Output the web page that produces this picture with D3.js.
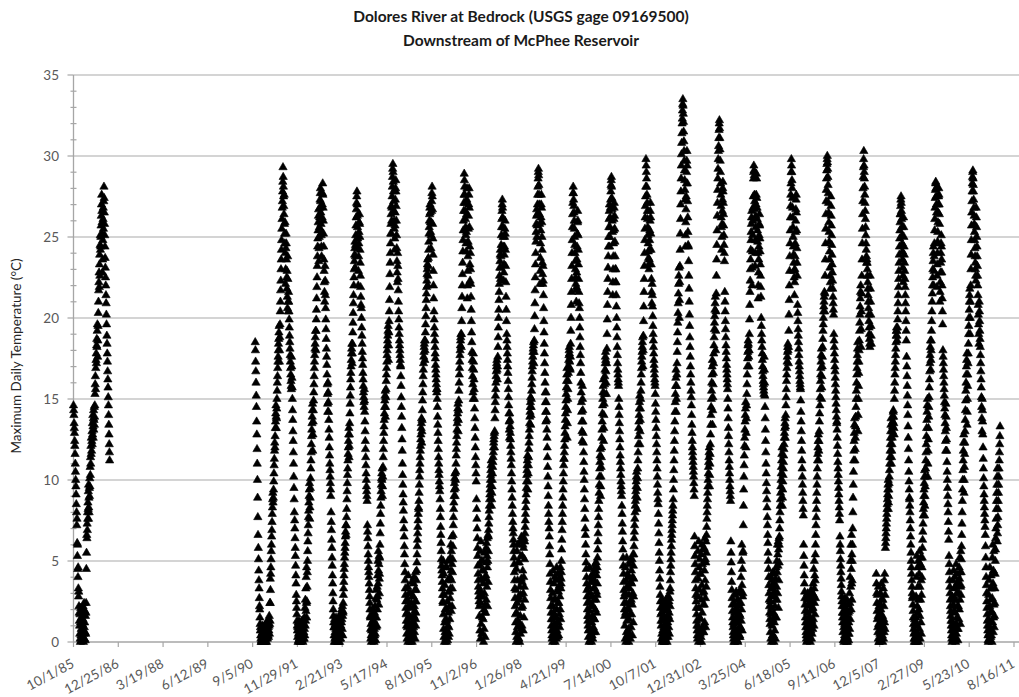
<!DOCTYPE html>
<html>
<head>
<meta charset="utf-8">
<script src="https://cdn.jsdelivr.net/npm/d3@7"></script>
<style>
  html, body { margin: 0; padding: 0; background: #fff; }
  svg { display: block; }
  text { font-family: Lato, "Open Sans", sans-serif; }
</style>
</head>
<body>
<svg id="chart" width="1019" height="697"></svg>
<script>
// ---------------- DATA ----------------
const titleLines = ["Dolores River at Bedrock (USGS gage 09169500)", "Downstream of McPhee Reservoir"];
const yAxisTitle = "Maximum Daily Temperature (°C)";
const yTicks = [0, 5, 10, 15, 20, 25, 30, 35];
const tickLabels = ["10/1/85", "12/25/86", "3/19/88", "6/12/89", "9/5/90", "11/29/91", "2/21/93", "5/17/94",
  "8/10/95", "11/2/96", "1/26/98", "4/21/99", "7/14/00", "10/7/01", "12/31/02", "3/25/04", "6/18/05",
  "9/11/06", "12/5/07", "2/27/09", "5/23/10", "8/16/11"];

// Water years (Oct of previous year .. Sep). 15 readings per month (every 2nd day), Oct first.
const waterYears = [1986, 1991, 1992, 1993, 1994, 1995, 1996, 1997, 1998, 1999, 2000,
  2001, 2002, 2003, 2004, 2005, 2006, 2007, 2008, 2009, 2010, 2011];

const wy1986 = [
14.6,14.3,14.0,13.5,13.2,12.9,12.4,12.1,11.6,11.0,10.5,10.0,9.6,9.1,8.5,
8.0,7.2,7.6,6.1,5.3,6.0,4.5,4.0,4.6,3.3,2.8,3.1,2.2,1.8,1.3,
1.0,0.5,1.7,0.2,0.0,1.2,2.1,0.4,0.8,0.1,1.5,0.6,1.9,0.3,1.1,
0.3,1.4,2.2,0.7,0.0,0.5,1.8,2.4,0.9,0.2,1.2,1.9,0.6,0.1,1.6,
0.5,1.8,2.4,4.5,5.5,6.6,6.4,7.3,6.9,8.0,7.6,8.6,8.2,9.3,9.7,
7.6,8.3,8.9,8.0,9.5,9.0,10.1,9.6,10.8,10.3,11.4,11.0,12.1,11.6,12.6,
11.8,12.4,13.0,12.2,13.5,12.8,14.0,13.3,12.6,13.8,14.3,13.1,13.7,14.5,13.4,
13.9,14.6,15.3,15.9,16.4,15.6,16.9,17.4,17.8,17.2,18.3,18.7,18.2,19.2,19.6,
17.6,18.6,19.5,20.3,21.0,21.7,22.2,22.8,21.9,23.3,23.9,22.6,24.5,25.1,24.2,
24.4,25.0,25.7,26.3,27.0,27.6,26.6,25.9,25.2,22.8,23.6,24.8,26.1,26.8,25.5,
27.2,28.1,27.4,26.5,25.8,25.1,24.4,23.7,23.1,22.5,22.0,21.4,20.9,20.2,19.6,
18.9,18.4,17.8,17.3,16.7,16.2,15.7,15.1,14.6,14.0,13.4,12.8,12.2,11.7,11.2];

const wy1991 = [
18.5,18.0,17.3,16.7,16.0,15.2,14.5,13.6,12.8,11.9,11.0,10.0,8.9,7.7,6.6,
5.8,5.1,4.4,3.8,3.3,2.7,2.2,2.0,1.5,1.1,0.7,0.9,0.4,0.2,0.0,
0.4,0.1,0.0,0.8,0.3,0.0,0.6,1.0,0.2,0.5,0.9,0.1,0.3,0.7,0.0,
0.0,0.3,0.7,0.1,0.4,1.1,0.0,0.2,0.5,0.8,0.3,0.0,0.6,1.2,0.4,
0.2,0.6,1.2,0.4,0.9,0.3,1.4,0.7,1.0,1.6,0.5,1.1,2.4,1.3,3.9,
2.4,3.2,4.2,4.6,5.1,5.6,6.0,6.5,6.9,7.4,7.9,8.3,8.8,9.2,8.6,
8.9,9.4,9.9,10.4,10.9,11.3,11.8,12.3,12.0,12.7,13.2,13.6,14.1,14.6,13.9,
13.2,13.8,14.4,15.0,15.5,16.0,16.4,16.9,17.3,17.6,18.0,18.4,18.7,19.1,19.5,
17.3,18.0,18.8,19.6,20.4,21.0,21.7,22.3,23.0,23.6,24.2,24.8,25.5,26.1,26.8,
27.2,27.8,28.4,29.3,28.7,28.1,27.5,26.9,26.4,27.6,25.8,25.2,24.6,25.9,24.0,
22.1,23.0,24.3,25.2,24.6,23.6,22.5,21.8,22.9,21.3,20.6,23.8,22.4,21.0,20.4,
21.6,21.0,20.4,19.9,19.4,18.9,18.5,18.1,17.7,17.3,16.9,16.5,16.1,15.8,15.6];

const wy1992 = [
17.6,17.0,16.3,15.7,15.0,14.3,13.7,13.0,12.4,11.7,11.0,10.2,9.5,8.8,8.0,
7.5,7.0,6.4,5.8,5.3,4.7,4.1,3.6,2.9,2.5,2.1,1.7,1.3,1.0,0.7,
0.3,0.9,0.0,1.2,0.5,0.1,0.8,1.3,0.2,0.6,1.0,0.0,0.4,1.1,0.3,
0.0,0.4,1.0,0.2,0.7,1.3,0.1,0.5,0.9,0.3,1.2,0.0,0.6,1.4,0.2,
0.6,1.1,0.2,0.8,1.5,0.4,2.1,1.0,2.6,1.3,3.3,1.9,4.0,2.4,4.6,
1.5,2.5,3.4,4.3,5.0,5.6,6.2,6.7,7.2,7.7,8.1,8.6,9.0,9.4,9.8,
7.6,8.3,8.9,9.5,10.1,10.7,11.2,11.7,12.2,12.7,13.1,13.5,13.9,14.3,14.7,
11.8,12.8,13.6,14.3,14.9,15.4,15.9,16.4,16.9,17.3,17.7,18.1,18.4,18.8,19.2,
18.0,19.2,19.9,20.5,21.2,21.9,22.5,23.2,23.8,24.4,24.9,25.4,25.9,26.3,26.7,
23.5,24.3,25.0,25.6,26.2,26.8,27.3,27.7,28.0,27.2,26.5,25.8,25.1,24.4,23.8,
25.3,26.2,27.0,27.7,28.3,27.6,26.8,26.0,25.2,24.4,23.6,22.9,22.2,21.6,21.0,
23.2,22.3,21.4,20.6,19.9,19.3,18.7,18.1,17.6,17.1,16.5,15.9,15.3,14.7,14.2];

const wy1993 = [
16.0,15.4,14.8,14.2,13.7,13.1,12.6,12.0,11.5,11.0,10.6,10.2,9.8,9.4,9.0,
8.0,7.4,6.9,6.3,5.8,5.2,4.7,4.1,3.6,3.0,2.5,2.0,1.6,1.2,0.9,
0.4,0.0,0.9,1.4,0.2,0.6,1.1,0.0,0.3,0.8,1.5,0.1,0.5,1.0,0.2,
0.1,0.5,1.2,0.0,0.7,1.5,0.3,0.0,0.9,0.4,1.3,0.6,0.0,1.0,0.2,
0.6,1.3,0.2,1.0,1.7,0.5,1.2,2.0,1.4,1.9,0.8,2.2,1.6,0.4,1.8,
1.9,2.4,2.9,3.3,3.7,4.1,4.5,4.8,5.2,5.5,5.8,6.1,6.5,6.8,7.2,
6.6,7.2,7.7,8.2,8.8,9.3,9.8,10.3,10.7,11.2,11.6,12.0,12.4,12.8,13.2,
11.4,12.1,12.8,13.5,14.1,14.7,15.2,15.7,16.2,16.6,17.0,17.4,17.8,18.1,18.4,
17.2,17.8,18.4,19.1,19.7,20.3,20.9,21.4,22.0,22.5,23.0,23.5,23.9,24.3,24.7,
23.1,23.8,24.5,25.1,25.7,26.2,26.7,27.1,27.5,27.8,27.0,26.3,25.6,24.9,24.3,
22.0,22.9,23.8,24.6,25.3,25.9,26.4,25.8,25.0,24.2,23.4,22.6,21.9,21.3,20.8,
20.6,20.0,19.4,18.9,18.4,17.9,17.5,17.1,16.6,16.2,15.8,15.4,15.1,14.8,14.5];

const wy1994 = [
15.6,14.9,14.2,13.6,13.0,12.4,11.9,11.4,10.9,10.4,10.0,9.6,9.3,9.0,8.7,
7.2,6.8,6.4,5.9,5.4,5.0,4.6,4.3,4.0,3.6,3.2,2.8,2.4,2.0,1.6,
1.5,0.8,0.2,1.1,0.4,0.0,0.7,1.6,0.3,0.9,2.0,0.5,1.3,0.1,0.6,
0.2,0.6,1.3,0.0,0.8,1.8,0.4,1.0,2.2,0.5,1.5,0.1,2.7,0.9,3.2,
1.5,2.6,1.0,3.4,2.0,4.1,2.8,5.0,3.6,5.6,4.4,2.3,4.8,5.3,3.9,
3.0,4.2,5.2,6.0,6.7,7.3,7.9,8.4,8.9,9.3,9.7,10.1,10.4,10.0,10.7,
9.0,9.6,10.2,10.8,11.4,11.9,12.4,12.9,13.3,13.7,14.1,14.5,14.9,15.2,15.5,
13.9,14.5,15.1,15.6,16.1,16.5,16.9,17.3,17.7,18.0,18.3,18.6,18.9,19.2,19.5,
17.4,18.3,19.1,19.8,20.4,21.1,21.9,22.7,23.4,24.0,24.6,25.2,25.8,26.4,26.9,
25.2,26.0,26.8,27.5,28.1,28.7,29.2,29.5,29.0,28.4,27.8,27.2,26.6,26.0,25.5,
24.2,24.9,25.7,26.5,27.3,28.0,28.5,27.8,26.9,26.0,25.1,24.3,23.5,22.8,22.2,
24.0,23.2,22.4,21.7,21.0,20.4,19.9,19.4,19.0,18.6,18.3,18.0,17.7,17.4,17.1];

const wy1995 = [
17.0,16.4,15.8,15.1,14.5,13.9,13.2,12.5,11.8,11.0,10.3,9.7,9.1,8.6,8.1,
7.5,7.0,6.5,5.9,5.4,4.8,4.3,3.8,3.3,2.9,2.5,2.1,1.7,1.3,1.0,
0.5,1.8,0.2,2.6,0.9,3.4,0.0,1.3,4.1,0.6,2.2,0.3,3.0,1.6,0.1,
0.3,1.0,2.1,0.0,0.7,3.0,1.5,0.2,2.4,0.8,3.7,1.2,0.0,2.8,0.5,
0.4,1.2,2.8,0.9,3.6,1.6,4.0,2.2,0.6,1.9,3.2,0.2,2.5,4.3,1.4,
1.0,1.8,2.5,3.2,3.8,4.4,4.9,5.4,5.9,6.3,6.7,7.1,7.5,7.9,8.3,
8.2,8.7,9.2,9.7,10.2,10.6,11.0,11.4,11.8,12.1,12.5,12.8,13.2,13.5,13.8,
12.3,13.0,13.7,14.3,14.9,15.4,15.9,16.4,16.8,17.2,17.6,17.9,18.2,18.4,18.6,
17.4,18.0,18.6,19.1,19.6,20.1,20.6,21.1,21.5,21.9,22.3,22.7,23.0,23.3,23.6,
22.0,22.6,23.2,23.7,24.2,24.7,25.2,25.6,26.0,26.4,26.8,27.0,26.5,25.9,25.3,
24.3,25.1,25.9,26.6,27.2,27.7,28.1,27.5,26.7,25.8,24.9,23.9,22.9,22.0,21.2,
20.4,19.9,19.4,19.0,18.6,18.2,17.8,17.5,17.1,16.8,16.5,16.2,15.9,15.6,15.4];

const wy1996 = [
15.6,15.0,14.5,13.9,13.4,12.9,12.4,11.9,11.4,11.0,10.6,10.3,9.9,9.6,9.3,
8.8,8.2,7.7,7.1,6.6,6.1,5.6,5.1,4.7,4.4,4.1,3.7,3.3,2.9,2.5,
2.4,5.0,1.7,0.8,4.2,0.3,2.9,0.0,1.2,3.5,0.6,2.0,4.6,1.4,0.2,
0.4,2.0,0.0,1.3,4.6,0.7,2.5,0.1,3.8,1.0,5.0,1.8,0.3,3.1,0.9,
0.5,2.2,3.1,1.4,4.0,2.7,5.2,3.3,6.0,4.4,1.9,5.6,3.8,6.5,4.8,
2.2,3.3,4.3,5.1,5.9,6.6,7.2,7.7,8.2,8.6,9.0,9.4,9.8,10.1,10.4,
9.0,9.5,10.0,10.5,11.0,11.5,11.9,12.3,12.7,13.1,13.5,13.8,14.1,14.4,14.7,
13.0,13.7,14.3,14.9,15.5,16.0,16.5,16.9,17.3,17.7,18.0,18.3,18.6,18.8,19.0,
18.2,19.0,19.8,20.6,21.3,22.0,22.7,23.4,24.1,24.8,25.4,26.0,26.6,27.1,27.6,
28.9,28.5,28.1,27.6,27.1,26.6,26.1,25.6,25.1,24.6,24.1,25.3,26.4,27.3,28.0,
21.2,22.0,22.9,23.8,24.7,25.5,26.3,27.0,27.6,28.0,26.8,25.6,24.4,23.3,22.3,
24.0,23.0,22.1,21.3,20.5,19.8,19.1,18.5,17.9,17.4,16.9,16.4,15.9,15.4,15.0];

const wy1997 = [
17.8,17.3,16.8,16.2,15.6,15.0,14.4,13.8,13.2,12.6,12.0,11.4,10.9,10.4,9.9,
8.8,8.2,7.6,7.0,6.4,5.8,5.3,4.7,4.2,3.8,3.4,3.1,2.8,2.5,2.2,
1.6,4.8,0.7,3.2,5.6,0.2,2.4,6.2,1.1,3.9,5.0,0.5,2.8,4.4,1.5,
0.5,2.8,5.0,1.4,3.6,0.0,4.4,2.0,0.8,3.0,5.5,1.8,3.9,0.3,2.3,
1.8,4.1,5.8,2.6,4.9,6.1,3.4,5.3,6.4,4.6,2.2,5.0,6.6,3.7,5.6,
6.5,6.9,7.3,7.7,8.1,8.4,8.8,9.1,9.4,9.7,10.0,10.3,10.6,10.9,11.2,
8.4,8.8,9.2,9.6,10.0,10.4,10.8,11.1,11.4,11.7,12.0,12.3,12.5,12.7,12.9,
12.0,13.0,13.8,14.3,14.8,15.2,15.6,16.0,16.4,16.7,17.0,17.2,17.4,16.8,16.2,
17.0,17.6,18.2,18.8,19.4,20.0,20.5,21.1,21.6,22.1,22.6,23.1,23.5,23.9,24.2,
22.4,23.1,23.8,24.5,25.1,25.6,26.1,26.6,27.0,27.3,26.8,26.2,25.6,25.0,24.4,
22.3,22.8,23.3,23.9,24.4,25.0,25.5,26.0,25.2,24.2,23.2,22.2,21.3,20.5,19.8,
19.0,18.6,18.2,17.8,17.4,17.0,16.6,16.1,15.6,15.1,14.6,14.1,13.6,13.1,12.6];

const wy1998 = [
14.1,13.7,13.3,12.9,12.5,12.1,11.7,11.3,10.9,10.4,9.9,9.4,8.9,8.4,7.9,
7.4,7.0,6.7,6.3,6.0,5.6,5.2,4.8,4.3,3.8,3.3,2.7,2.2,1.7,1.2,
0.6,3.2,0.0,4.5,1.8,0.3,5.6,2.4,0.9,3.8,6.0,1.3,4.9,0.2,2.8,
0.2,2.6,4.9,1.1,0.0,3.4,6.2,1.6,0.5,2.9,5.3,0.8,3.9,6.5,2.1,
1.0,3.7,5.3,2.2,4.4,6.0,0.7,3.0,5.8,4.0,1.5,6.4,3.4,5.1,2.6,
6.2,6.7,7.1,7.5,7.9,8.3,8.7,9.1,9.5,9.9,10.3,10.6,10.9,11.2,11.5,
9.4,9.9,10.4,10.9,11.4,11.9,12.3,12.7,13.1,13.5,13.9,14.2,14.5,14.8,15.1,
13.4,14.0,14.5,15.0,15.5,15.9,16.3,16.7,17.0,17.3,17.6,17.9,18.1,18.3,18.5,
17.2,17.9,18.6,19.3,20.1,20.9,21.7,22.5,23.3,24.0,24.7,25.3,25.8,26.3,26.7,
25.0,25.7,26.4,27.0,27.6,28.1,28.6,29.0,29.2,28.8,28.2,27.6,27.0,26.4,25.8,
22.1,22.9,23.7,24.6,25.4,26.2,27.0,27.6,26.8,25.9,25.0,24.2,23.4,22.7,22.1,
23.2,22.3,21.4,20.6,19.8,19.1,18.4,17.8,17.2,16.6,16.0,15.4,14.8,14.2,13.6];

const wy1999 = [
15.4,14.8,14.2,13.7,13.1,12.6,12.0,11.4,10.8,10.2,9.6,9.0,8.4,7.9,7.4,
7.0,6.5,5.9,5.4,4.8,4.2,3.7,3.2,2.7,2.2,1.8,1.4,1.0,0.7,0.4,
0.2,1.4,3.0,0.0,2.2,4.4,0.8,1.8,0.3,3.6,1.1,2.6,0.5,4.0,1.6,
0.0,1.0,2.6,0.5,3.8,1.5,0.2,4.6,2.0,0.7,3.2,1.2,4.2,0.3,2.4,
1.2,3.1,0.4,2.4,4.2,1.7,3.5,0.9,2.8,4.0,2.0,4.6,1.4,3.3,3.9,
3.6,4.3,5.0,5.7,6.3,6.9,7.4,7.9,8.4,8.9,9.4,9.9,10.4,10.9,11.3,
11.3,11.7,12.1,12.5,12.9,13.3,13.7,14.1,14.5,14.9,15.3,15.7,16.1,16.5,16.9,
12.6,13.5,14.3,15.0,15.6,16.1,16.6,17.0,17.4,17.7,18.0,18.2,17.8,17.3,16.9,
16.8,17.6,18.4,19.2,20.0,20.8,21.6,22.4,23.2,24.0,24.8,25.6,26.4,27.1,27.7,
28.1,27.7,27.3,26.9,26.5,26.0,25.5,25.0,24.5,24.0,23.5,23.0,22.5,22.1,21.7,
21.0,21.9,22.8,23.6,24.4,25.2,25.9,26.6,26.0,25.1,24.2,23.3,22.4,21.6,20.9,
20.6,20.0,19.4,18.8,18.2,17.7,17.2,16.6,16.0,15.4,14.8,14.2,13.6,13.0,12.4];

const wy2000 = [
15.8,15.0,14.3,13.6,12.9,12.3,11.7,11.1,10.5,10.0,9.4,8.8,8.2,7.6,7.0,
6.6,6.0,5.4,4.9,4.5,4.0,3.6,3.2,2.8,2.4,2.0,1.6,1.3,1.0,0.7,
0.3,1.6,3.4,0.0,2.5,4.6,0.8,1.9,0.1,3.0,1.2,4.0,0.5,2.2,3.7,
0.0,1.2,2.8,0.4,3.9,1.6,0.2,4.2,2.2,0.9,3.3,0.6,2.6,4.5,1.4,
1.4,3.3,4.8,2.0,3.7,0.6,4.4,2.6,4.9,3.1,1.8,4.1,2.9,4.6,3.6,
5.2,5.7,6.2,6.7,7.2,7.7,8.2,8.7,9.2,9.7,10.2,10.7,11.1,11.5,11.9,
9.0,9.6,10.2,10.8,11.4,12.0,12.6,13.1,13.6,14.1,14.6,15.0,15.4,15.8,16.2,
12.4,13.2,14.0,14.7,15.3,15.9,16.4,16.8,17.2,17.6,17.9,17.4,16.7,16.0,15.3,
17.2,18.1,19.0,19.9,20.8,21.6,22.4,23.1,23.8,24.4,25.0,25.6,26.1,26.6,27.0,
24.4,25.0,25.6,26.2,26.8,27.3,27.8,28.2,28.5,28.7,28.1,27.4,26.7,26.0,25.3,
21.4,22.2,23.0,23.8,24.6,25.4,26.1,26.8,27.1,26.3,25.5,24.7,23.8,23.0,22.2,
23.0,22.2,21.4,20.7,20.0,19.4,18.8,18.2,17.7,17.2,16.8,16.5,16.2,16.0,15.8];

const wy2001 = [
15.0,14.5,14.0,13.5,13.0,12.5,12.0,11.5,11.1,10.7,10.3,9.9,9.6,9.3,9.0,
8.4,7.9,7.3,6.8,6.2,5.7,5.2,4.7,4.2,3.7,3.2,2.8,2.4,2.0,1.6,
1.0,3.0,0.2,4.6,1.8,0.0,3.8,2.4,0.6,5.2,1.3,3.4,0.4,4.2,2.0,
0.3,2.1,4.0,0.8,0.0,2.9,1.4,4.8,0.5,3.3,1.7,5.0,0.2,2.5,3.7,
0.9,2.6,4.4,1.7,3.6,5.1,2.3,0.4,4.0,3.0,5.4,1.2,4.7,2.8,3.9,
5.4,5.9,6.4,6.8,7.2,7.6,8.0,8.4,8.7,9.0,9.3,9.6,9.9,10.2,10.5,
8.2,8.9,9.5,10.1,10.7,11.2,11.7,12.2,12.7,13.2,13.6,14.0,14.4,14.8,15.2,
12.2,13.0,13.7,14.4,15.0,15.5,16.0,16.5,16.9,17.3,17.6,17.9,18.2,18.5,18.8,
17.0,18.0,18.9,19.8,20.7,21.6,22.4,23.2,24.0,24.8,25.5,26.2,26.9,27.5,28.1,
29.8,29.4,29.0,28.6,28.1,27.6,27.1,26.6,26.1,25.6,25.1,24.6,24.1,23.7,23.3,
23.0,23.6,24.2,24.8,25.4,26.0,26.6,27.1,26.2,25.2,24.2,23.3,22.4,21.6,20.9,
22.1,21.4,20.7,20.1,19.5,19.0,18.6,18.2,17.8,17.4,17.1,16.8,16.5,16.2,16.0];

const wy2002 = [
15.8,15.3,14.7,14.2,13.7,13.2,12.7,12.2,11.7,11.2,10.7,10.2,9.7,9.2,8.8,
8.5,7.9,7.3,6.7,6.1,5.5,5.0,4.4,3.9,3.4,2.9,2.5,2.1,1.7,1.3,
1.0,0.2,1.8,0.5,2.6,0.0,1.3,2.2,0.7,0.1,1.6,0.4,2.4,0.9,0.0,
0.4,1.5,0.0,2.4,0.9,0.2,1.9,0.6,2.6,1.1,0.3,2.1,0.8,1.4,0.0,
0.7,2.0,1.2,2.8,0.3,1.6,2.3,0.9,2.5,1.8,0.5,2.7,1.4,3.1,2.2,
3.3,3.8,4.3,4.7,5.1,5.5,5.9,6.3,6.6,6.9,7.2,7.5,7.8,8.1,8.4,
8.8,9.4,10.0,10.6,11.2,11.8,12.4,13.0,13.6,14.2,14.8,15.3,15.8,16.3,16.8,
14.2,15.0,15.8,16.5,17.2,17.9,18.5,19.1,19.7,20.3,20.9,21.5,22.1,22.6,23.1,
20.0,21.1,22.2,23.2,24.2,25.2,26.1,27.0,27.8,28.6,29.4,30.1,30.8,31.4,32.0,
32.3,32.8,33.2,33.5,33.1,32.6,32.1,31.5,30.9,30.3,29.7,29.1,28.5,27.9,27.3,
24.4,25.1,25.9,26.7,27.5,28.3,29.0,29.7,30.3,29.4,28.3,27.2,26.2,25.3,24.5,
24.4,23.5,22.6,21.8,21.0,20.2,19.5,18.8,18.2,17.6,17.0,16.5,16.0,15.5,15.1];

const wy2003 = [
14.6,14.0,13.4,12.9,12.4,12.0,11.7,11.4,11.1,10.8,10.5,10.2,9.8,9.4,9.0,
6.5,5.9,5.3,4.8,4.3,3.8,3.3,2.9,2.5,2.1,1.7,1.3,1.0,0.7,0.4,
0.2,2.8,5.6,1.0,3.9,0.0,6.2,2.1,4.6,0.7,3.2,5.1,1.5,4.2,0.5,
1.4,4.2,0.3,5.4,2.6,0.0,3.5,6.0,1.8,4.8,0.9,3.0,5.7,2.3,0.6,
0.6,3.1,5.8,2.3,4.4,1.2,6.4,3.8,5.1,2.7,0.9,4.9,6.2,3.4,5.5,
6.6,7.1,7.6,8.0,8.4,8.8,9.2,9.6,10.0,10.4,10.8,11.1,11.4,11.7,12.0,
9.6,10.3,11.0,11.6,12.2,12.8,13.4,14.0,14.5,15.0,15.5,16.0,16.5,17.0,17.4,
13.4,14.3,15.1,15.9,16.6,17.2,17.8,18.3,18.8,19.3,19.7,20.1,20.5,20.9,21.3,
18.0,19.2,20.4,21.5,22.6,23.6,24.5,25.4,26.3,27.1,27.9,28.6,29.2,29.8,30.3,
30.6,31.1,31.6,32.0,32.2,31.7,31.1,30.4,29.7,29.0,28.3,27.6,26.9,26.2,25.6,
24.2,25.0,25.8,26.6,27.3,28.0,28.4,27.8,27.1,26.4,25.7,25.1,24.5,24.0,23.5,
21.6,21.0,20.4,19.8,19.3,18.8,18.3,17.9,17.5,17.1,16.8,16.5,16.2,15.9,15.6];

const wy2004 = [
15.0,14.4,13.8,13.2,12.7,12.2,11.7,11.2,10.8,10.4,10.0,9.6,9.3,9.0,8.7,
6.2,5.5,4.9,4.3,3.7,3.2,2.7,2.3,1.9,1.5,1.2,0.9,0.6,0.4,0.2,
0.0,1.1,2.4,0.4,1.8,0.0,2.9,0.8,1.5,0.2,2.1,0.6,3.1,1.3,0.1,
0.6,1.9,0.1,2.6,1.2,0.0,2.2,0.7,3.0,1.4,0.3,2.4,0.9,1.7,0.4,
0.3,1.6,3.2,0.9,2.4,4.0,1.3,5.0,2.0,6.0,3.5,0.7,4.5,2.8,5.5,
3.0,5.6,7.2,8.4,9.4,10.2,10.9,11.5,12.1,12.6,13.1,13.6,14.0,14.4,14.8,
12.0,12.9,13.8,14.6,15.3,15.9,16.5,17.0,17.5,17.9,18.3,18.6,18.4,18.0,17.6,
17.0,18.0,19.0,19.9,20.8,21.6,22.3,23.0,23.6,24.2,24.8,25.3,25.8,26.2,26.6,
22.0,23.1,24.1,25.1,26.0,26.8,27.5,28.6,29.0,29.4,29.1,28.8,27.6,27.2,26.7,
23.2,24.0,24.8,25.6,26.3,27.0,27.6,28.9,28.6,27.4,26.8,26.1,25.4,24.7,24.0,
21.2,22.0,22.8,23.6,24.4,25.1,25.8,26.4,25.7,24.9,24.1,23.3,22.6,21.9,21.3,
20.0,19.5,19.0,18.6,18.2,17.8,17.4,17.0,16.7,16.4,16.1,15.9,15.7,15.5,15.3];

const wy2005 = [
17.6,16.8,16.0,15.2,14.5,13.8,13.1,12.4,11.7,11.0,10.4,9.8,9.3,8.8,8.3,
7.7,7.2,6.6,6.1,5.5,5.0,4.5,4.0,3.5,3.0,2.6,2.2,1.8,1.4,1.1,
0.6,2.5,4.0,0.2,1.7,3.3,0.0,2.1,3.8,1.0,2.9,0.4,3.5,1.4,4.3,
0.4,1.8,3.6,0.0,2.8,1.2,4.2,0.7,2.2,3.1,0.2,3.9,1.5,2.6,4.6,
1.5,3.4,5.0,2.6,4.3,6.0,3.0,5.4,4.7,6.2,2.1,5.7,3.8,6.4,4.9,
6.0,6.5,7.0,7.5,8.0,8.4,8.8,9.2,9.6,10.0,10.4,10.8,11.2,11.6,12.0,
8.4,8.9,9.4,9.9,10.3,10.7,11.1,11.5,11.9,12.2,12.6,12.9,13.2,13.5,13.8,
12.6,13.3,14.0,14.6,15.1,15.6,16.1,16.5,16.9,17.3,17.6,17.9,18.2,18.4,18.0,
17.2,18.2,19.2,20.2,21.1,22.0,22.9,23.8,24.6,25.4,26.2,26.9,27.6,28.3,29.0,
29.8,29.4,29.0,28.5,28.0,27.4,26.8,26.2,25.6,25.0,24.4,23.9,23.4,22.9,22.5,
21.4,22.2,23.0,23.8,24.6,25.3,26.0,26.7,27.3,27.6,26.5,25.4,24.3,23.4,22.6,
20.8,20.3,19.8,19.3,18.9,18.5,18.1,17.7,17.3,17.0,16.7,16.4,16.1,15.9,15.7];

const wy2006 = [
15.6,14.9,14.2,13.6,13.0,12.4,11.8,11.2,10.7,10.2,9.7,9.2,8.7,8.2,7.8,
6.0,5.3,4.7,4.1,3.6,3.1,2.7,2.3,1.9,1.5,1.2,0.9,0.6,0.4,0.2,
0.0,1.2,2.6,0.4,1.8,3.0,0.1,0.9,2.2,0.5,1.5,2.8,0.2,1.1,2.4,
0.3,1.5,2.8,0.0,1.1,2.4,0.7,3.2,1.9,0.2,2.6,1.3,0.5,2.1,3.0,
0.8,2.1,3.6,1.4,2.9,4.5,1.0,3.3,5.0,2.4,4.1,1.7,3.8,5.4,2.7,
6.0,6.6,7.2,7.7,8.2,8.7,9.2,9.7,10.2,10.7,11.2,11.6,12.0,12.4,12.8,
11.2,11.8,12.4,13.0,13.6,14.1,14.6,15.1,15.6,16.1,16.5,16.9,17.3,17.7,18.1,
15.0,15.7,16.4,17.0,17.6,18.2,18.7,19.2,19.6,20.0,20.4,20.7,21.0,21.3,21.6,
20.4,21.5,22.6,23.6,24.6,25.5,26.4,27.2,27.9,28.6,29.1,29.5,29.8,30.0,29.6,
29.2,28.7,28.2,27.7,27.1,26.5,25.9,25.3,24.7,24.1,23.6,23.1,22.6,22.2,21.8,
27.5,26.9,26.3,25.7,25.1,24.5,23.9,23.3,22.8,22.3,21.8,21.3,20.9,20.5,20.2,
19.0,18.6,18.2,17.8,17.4,17.0,16.7,16.3,15.9,15.5,15.1,14.7,14.3,13.9,13.5];

const wy2007 = [
13.6,13.1,12.6,12.1,11.6,11.1,10.7,10.3,9.9,9.5,9.1,8.7,8.3,7.9,7.5,
6.5,6.0,5.6,5.1,4.7,4.3,3.9,3.5,3.1,2.8,2.5,2.2,1.8,1.5,1.2,
0.6,1.8,0.1,2.5,0.9,0.0,1.5,2.2,0.4,1.1,2.7,0.3,1.7,0.8,2.0,
0.2,1.3,0.0,2.0,0.7,2.6,0.3,1.6,0.0,1.0,2.3,0.5,1.8,0.1,1.2,
0.5,1.9,3.0,0.8,2.4,4.0,1.4,5.0,3.4,6.0,2.0,4.5,6.6,3.6,5.4,
2.6,3.8,5.0,6.0,7.0,8.0,8.9,9.7,10.5,11.2,11.8,12.4,12.9,13.4,13.8,
11.2,11.9,12.6,13.3,13.9,14.5,15.0,15.5,16.0,16.5,16.9,17.3,17.7,18.1,18.5,
13.0,14.0,15.0,15.8,16.6,17.3,18.0,18.6,19.2,19.7,20.2,20.7,21.2,21.6,22.0,
18.2,19.3,20.4,21.5,22.6,23.6,24.6,25.5,26.4,27.2,28.0,28.7,29.3,29.8,30.3,
29.4,29.0,28.6,28.1,27.6,27.1,26.6,26.1,25.6,25.1,24.6,24.2,23.8,23.4,23.6,
23.4,23.0,22.6,22.2,21.8,21.4,21.0,20.6,20.2,19.8,19.4,19.0,18.7,18.4,18.2,
22.6,21.8,21.0,20.2,19.5,18.9,18.4,null,null,null,null,null,null,null,null];

const wy2008 = [
null,null,null,null,null,null,null,null,null,null,null,null,null,null,null,
4.2,3.6,3.0,2.4,1.9,1.4,2.9,0.9,0.6,1.6,0.2,3.4,1.1,0.0,2.2,
0.0,1.1,2.4,0.5,1.8,0.1,3.0,0.8,2.0,0.3,1.4,3.6,0.6,2.6,1.0,
0.4,1.6,0.0,2.6,1.0,3.3,0.2,1.4,2.2,0.6,3.8,1.2,4.2,0.8,2.9,
5.8,6.1,6.4,6.7,7.0,7.3,7.6,7.9,8.2,8.5,8.8,9.1,9.4,9.7,10.0,
8.2,8.6,9.0,9.4,9.8,10.2,10.6,11.0,11.4,11.8,12.2,12.6,13.0,13.4,13.8,
11.0,11.4,11.8,12.2,12.6,13.0,13.3,13.6,13.9,14.2,14.3,13.9,13.5,13.2,12.8,
15.0,15.5,16.0,16.5,16.9,17.3,17.7,18.1,18.5,18.9,19.2,19.4,19.2,18.9,18.6,
19.4,19.9,20.4,20.9,21.4,21.9,22.4,22.9,23.4,23.9,24.4,24.9,25.4,25.9,26.4,
26.4,26.9,27.3,27.5,27.1,26.6,26.1,25.6,25.1,24.6,24.1,23.6,23.1,22.6,22.2,
26.2,25.6,25.0,24.4,23.9,23.4,22.9,22.4,21.9,21.4,20.9,20.4,19.8,19.2,18.6,
17.6,17.0,16.4,15.8,15.2,14.6,14.0,13.3,12.6,11.9,11.2,10.5,9.9,9.4,8.9];

const wy2009 = [
8.8,8.4,8.0,7.5,7.0,6.5,6.0,5.5,5.0,4.6,4.2,3.8,3.4,3.0,2.7,
2.8,2.3,1.9,1.5,1.1,0.8,0.5,0.2,0.0,1.4,0.6,0.2,1.0,0.3,0.0,
0.3,1.5,2.8,0.0,4.0,1.1,5.3,0.6,2.2,4.6,1.8,3.4,0.4,5.0,2.6,
0.0,2.0,4.2,0.8,5.6,1.6,3.4,0.2,4.8,2.6,5.2,1.2,3.8,0.5,2.9,
4.0,4.6,5.2,5.8,6.3,6.8,7.3,7.8,8.2,8.6,9.0,9.4,9.8,10.2,10.6,
7.8,8.4,9.0,9.6,10.2,10.7,11.2,11.7,12.2,12.7,13.2,13.7,14.2,14.6,15.0,
10.2,11.0,11.8,12.5,13.2,13.9,14.5,15.1,15.7,16.2,16.7,17.2,17.7,18.2,18.6,
16.8,17.4,18.0,18.6,19.2,19.8,20.4,21.0,21.5,22.0,22.5,23.0,23.5,24.0,24.4,
22.0,22.9,23.8,24.6,25.4,26.1,26.8,27.4,27.9,28.3,28.4,28.0,27.5,27.0,26.5,
21.9,22.6,23.3,24.0,24.7,25.3,25.9,26.5,27.0,27.5,28.0,27.6,27.0,26.4,25.8,
21.0,21.6,22.2,22.8,23.4,24.0,24.6,25.1,24.4,23.6,22.8,22.0,21.2,20.4,19.6,
18.0,17.6,17.2,16.8,16.4,16.0,15.6,15.2,14.8,14.4,14.0,13.5,13.0,12.4,11.8];

const wy2010 = [
14.7,13.9,13.2,12.5,11.8,11.1,10.5,10.0,9.5,9.0,8.5,8.0,7.4,6.8,6.3,
5.3,4.8,4.3,3.8,3.4,3.0,2.6,2.2,1.9,1.6,1.3,1.0,0.7,0.4,0.2,
0.0,1.3,2.8,0.4,3.8,1.0,0.1,2.3,4.4,0.7,1.9,3.3,0.2,2.6,4.0,
0.3,1.8,3.4,0.0,2.6,4.8,1.1,0.5,3.0,1.5,4.2,0.8,2.2,3.7,0.1,
0.8,2.2,3.6,1.4,3.0,4.6,2.0,3.9,5.2,2.6,4.3,1.1,3.4,5.6,2.9,
3.5,4.3,5.1,5.9,6.6,7.3,8.0,8.7,9.4,10.0,10.6,11.2,11.8,12.3,12.8,
9.2,10.0,10.8,11.6,12.3,13.0,13.7,14.3,14.9,15.5,16.0,16.5,17.0,17.4,17.8,
13.4,14.2,15.0,15.8,16.5,17.2,17.8,18.4,19.0,19.5,20.0,20.5,21.0,21.4,21.8,
19.0,20.0,21.0,22.0,23.0,23.9,24.8,25.7,26.5,27.2,27.8,28.3,28.7,29.0,29.1,
28.6,28.2,27.8,27.3,26.8,26.3,25.8,25.3,24.8,24.3,23.8,23.4,23.0,22.6,22.3,
26.8,26.2,25.6,25.0,24.4,23.8,23.2,22.6,22.0,21.4,20.8,20.2,19.6,19.0,18.4,
21.0,20.4,19.8,19.2,18.7,18.2,17.7,17.2,16.7,16.2,15.7,15.1,14.5,13.8,13.0];

const wy2011 = [
15.0,14.3,13.6,12.8,12.0,11.3,10.7,10.1,9.6,9.1,8.7,8.3,7.9,7.5,7.1,
6.6,5.9,5.2,4.6,4.0,3.5,3.0,2.5,2.1,1.7,1.3,1.0,0.7,0.4,0.1,
0.0,1.4,2.9,0.5,3.8,1.0,0.2,2.2,4.6,0.8,1.8,3.3,0.3,2.6,4.1,
0.4,1.9,3.3,0.0,2.7,5.2,1.2,6.0,3.6,0.6,4.4,1.5,5.6,2.3,0.9,
1.6,2.4,3.3,4.2,5.0,5.7,6.4,7.0,7.6,8.2,8.7,9.2,9.7,10.2,10.7,
6.2,6.7,7.2,7.7,8.2,8.7,9.2,9.7,10.2,10.7,11.2,11.7,12.2,12.7,13.3];

const seriesByYear = [wy1986, wy1991, wy1992, wy1993, wy1994, wy1995, wy1996, wy1997, wy1998, wy1999,
  wy2000, wy2001, wy2002, wy2003, wy2004, wy2005, wy2006, wy2007, wy2008, wy2009, wy2010, wy2011];

// ---------------- BUILD POINTS ----------------
const PER_MONTH = 15;
const points = [];
waterYears.forEach((wy, j) => {
  seriesByYear[j].forEach((v, i) => {
    if (v === null) return;
    const m = Math.floor(i / PER_MONTH), k = i % PER_MONTH;
    points.push({ date: new Date(wy - 1, 9 + m, 1 + 2 * k), value: v });
  });
});

// ---------------- CHART ----------------
const svg = d3.select("#chart");
const parse = d3.timeParse("%m/%d/%y");
const tickDates = tickLabels.map(parse);

const x = d3.scaleTime()
  .domain([tickDates[0], tickDates[tickDates.length - 1]])
  .range([73.5, 1014]);
const y = d3.scaleLinear().domain([0, 35]).range([642, 75]);
const plotRight = 1019;

// gridlines
svg.append("g").selectAll("line").data(yTicks.filter(d => d > 0)).join("line")
  .attr("x1", x.range()[0]).attr("x2", plotRight)
  .attr("y1", d => y(d)).attr("y2", d => y(d))
  .attr("stroke", "#d4d4d4").attr("stroke-width", 2);

// y axis
const axisColor = "#a6a6a6";
const gy = svg.append("g");
gy.append("line").attr("x1", 73.5).attr("x2", 73.5).attr("y1", y(35)).attr("y2", y(0))
  .attr("stroke", axisColor).attr("stroke-width", 1.3);
gy.selectAll("line.minor").data(d3.range(0, 36).filter(d => d % 5 !== 0)).join("line")
  .attr("class", "minor")
  .attr("x1", 70.5).attr("x2", 76.5).attr("y1", d => y(d)).attr("y2", d => y(d))
  .attr("stroke", axisColor).attr("stroke-width", 1.2);
gy.selectAll("line.major").data(yTicks).join("line")
  .attr("class", "major")
  .attr("x1", 67.5).attr("x2", 73.5).attr("y1", d => y(d)).attr("y2", d => y(d))
  .attr("stroke", axisColor).attr("stroke-width", 1.2);
gy.selectAll("text").data(yTicks).join("text")
  .attr("x", 59).attr("y", d => y(d)).attr("dy", "0.35em")
  .attr("text-anchor", "end").attr("font-size", 13.5).attr("fill", "#595959")
  .text(d => d);

// x axis
const gx = svg.append("g");
gx.append("line").attr("x1", 73.5).attr("x2", plotRight).attr("y1", 642).attr("y2", 642)
  .attr("stroke", axisColor).attr("stroke-width", 1.5);
gx.selectAll("line.tick").data(tickDates).join("line")
  .attr("class", "tick")
  .attr("x1", d => x(d)).attr("x2", d => x(d)).attr("y1", 642).attr("y2", 647)
  .attr("stroke", axisColor).attr("stroke-width", 1.2);
gx.selectAll("text").data(tickLabels).join("text")
  .attr("transform", (d, i) => `translate(${x(tickDates[i]) - 3},${658}) rotate(-28)`)
  .attr("text-anchor", "end").attr("dy", "0.72em")
  .attr("font-size", 13.5).attr("fill", "#595959")
  .text(d => d);

// points
const tri = d3.symbol().type(d3.symbolTriangle).size(30);
svg.append("g").selectAll("path").data(points).join("path")
  .attr("d", tri)
  .attr("transform", d => `translate(${x(d.date)},${y(d.value)})`)
  .attr("fill", "#000").attr("stroke", "#000").attr("stroke-width", 0.6);

// titles
svg.append("g").selectAll("text").data(titleLines).join("text")
  .attr("x", 521).attr("y", (d, i) => 22 + i * 24)
  .attr("text-anchor", "middle").attr("font-size", 15.5).attr("font-weight", "bold")
  .attr("fill", "#1a1a1a")
  .text(d => d);

svg.append("text")
  .attr("transform", "translate(21,356) rotate(-90)")
  .attr("text-anchor", "middle").attr("font-size", 13.5).attr("fill", "#262626")
  .text(yAxisTitle);
</script>
</body>
</html>
